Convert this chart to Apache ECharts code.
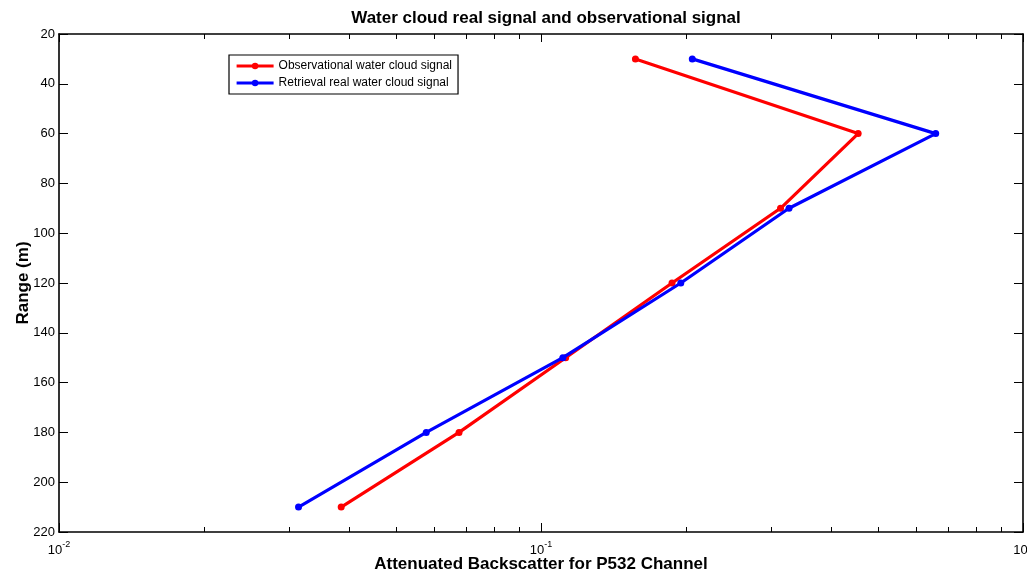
<!DOCTYPE html>
<html>
<head>
<meta charset="utf-8">
<script src="https://cdn.jsdelivr.net/npm/echarts@6/dist/echarts.min.js"></script>
<style>
  html, body { margin: 0; padding: 0; background: #fff; }
  #chart { width: 1027px; height: 572px; }
</style>
</head>
<body>
<div id="chart"></div>
<script>
// Range gates (m)
const ranges = [30, 60, 90, 120, 150, 180, 210];
// Attenuated backscatter, P532 channel
const observedSignal = [0.157, 0.455, 0.314, 0.187, 0.1125, 0.0676, 0.0385];
const retrievedSignal = [0.206, 0.659, 0.327, 0.195, 0.111, 0.0578, 0.0314];
// Minor log ticks drawn inside the box
const minorTickValues = [0.02, 0.03, 0.04, 0.05, 0.06, 0.07, 0.08, 0.09,
                         0.2, 0.3, 0.4, 0.5, 0.6, 0.7, 0.8, 0.9];

const FONT = '"Liberation Sans", Arial, Helvetica, sans-serif';
const BLACK = '#000';

const chart = echarts.init(document.getElementById('chart'), null, { renderer: 'canvas' });

function pairs(xs) { return xs.map((v, i) => [v, ranges[i]]); }

function logLabel(v) {
  const e = Math.round(Math.log10(v));
  return '{b|10}{s|' + e + '}';
}

const boxLine = { show: true, lineStyle: { color: BLACK, width: 1.6 } };

const option = {
  animation: false,
  backgroundColor: '#fff',
  title: {
    text: 'Water cloud real signal and observational signal',
    left: 541, top: 5, textAlign: 'center',
    textStyle: { fontFamily: FONT, fontSize: 17, fontWeight: 'bold', color: BLACK }
  },
  grid: { left: 59, right: 4, top: 34, bottom: 40, containLabel: false, outerBoundsMode: 'none' },
  legend: {
    orient: 'vertical', left: 229, top: 55,
    padding: [4, 6, 4, 6], itemGap: 3, itemWidth: 37, itemHeight: 8,
    backgroundColor: '#fff', borderColor: BLACK, borderWidth: 1.2, borderRadius: 0,
    lineStyle: { width: 3.2 },
    textStyle: { fontFamily: FONT, fontSize: 12, color: BLACK, lineHeight: 14 },
    data: ['Observational water cloud signal', 'Retrieval real water cloud signal']
  },
  xAxis: [
    {
      type: 'log', logBase: 10, min: 0.01, max: 1, position: 'bottom',
      name: 'Attenuated Backscatter for P532 Channel',
      nameLocation: 'middle', nameGap: 24, nameMoveOverlap: false,
      nameTextStyle: { fontFamily: FONT, fontSize: 17, fontWeight: 'bold', color: BLACK },
      axisLine: boxLine,
      axisTick: { show: true, inside: true, length: 9, lineStyle: { color: BLACK, width: 1 } },
      axisLabel: {
        show: true, margin: 6, formatter: logLabel,
        rich: {
          b: { fontFamily: FONT, fontSize: 13, color: BLACK, padding: [6, 0, 0, 0] },
          s: { fontFamily: FONT, fontSize: 9, color: BLACK, padding: [0, 0, 6, 0] }
        }
      },
      splitLine: { show: false }
    },
    {
      type: 'log', logBase: 10, min: 0.01, max: 1, position: 'top',
      axisLine: boxLine,
      axisTick: { show: true, inside: true, length: 8, lineStyle: { color: BLACK, width: 1 } },
      axisLabel: { show: false },
      splitLine: { show: false }
    }
  ],
  yAxis: [
    {
      type: 'value', inverse: true, min: 20, max: 220, interval: 20, position: 'left',
      name: 'Range (m)', nameLocation: 'middle', nameGap: 27, nameRotate: 90, nameMoveOverlap: false,
      nameTextStyle: { fontFamily: FONT, fontSize: 17, fontWeight: 'bold', color: BLACK },
      axisLine: boxLine,
      axisTick: { show: true, inside: true, length: 9, lineStyle: { color: BLACK, width: 1 } },
      axisLabel: { show: true, margin: 4, fontFamily: FONT, fontSize: 13, color: BLACK },
      splitLine: { show: false }
    },
    {
      type: 'value', inverse: true, min: 20, max: 220, interval: 20, position: 'right',
      axisLine: boxLine,
      axisTick: { show: true, inside: true, length: 9, lineStyle: { color: BLACK, width: 1 } },
      axisLabel: { show: false },
      splitLine: { show: false }
    }
  ],
  series: [
    {
      name: 'Observational water cloud signal', type: 'line',
      xAxisIndex: 0, yAxisIndex: 0,
      data: pairs(observedSignal),
      symbol: 'circle', symbolSize: 7,
      itemStyle: { color: '#ff0000' },
      lineStyle: { color: '#ff0000', width: 3.2 },
      z: 3
    },
    {
      name: 'Retrieval real water cloud signal', type: 'line',
      xAxisIndex: 0, yAxisIndex: 0,
      data: pairs(retrievedSignal),
      symbol: 'circle', symbolSize: 7,
      itemStyle: { color: '#0000ff' },
      lineStyle: { color: '#0000ff', width: 3.2 },
      z: 4
    }
  ]
};

chart.setOption(option);

// Minor log ticks on the bottom and top edges, placed through the x scale
const boxTop = chart.convertToPixel({ yAxisIndex: 0 }, 20);
const boxBottom = chart.convertToPixel({ yAxisIndex: 0 }, 220);
const minorTicks = [];
minorTickValues.forEach(v => {
  const x = Math.round(chart.convertToPixel({ xAxisIndex: 0 }, v)) + 0.5;
  minorTicks.push({ type: 'line', shape: { x1: x, y1: boxBottom, x2: x, y2: boxBottom - 5 },
                    style: { stroke: BLACK, lineWidth: 1 }, silent: true, z: 10 });
  minorTicks.push({ type: 'line', shape: { x1: x, y1: boxTop, x2: x, y2: boxTop + 5 },
                    style: { stroke: BLACK, lineWidth: 1 }, silent: true, z: 10 });
});
chart.setOption({ graphic: minorTicks });
</script>
</body>
</html>
